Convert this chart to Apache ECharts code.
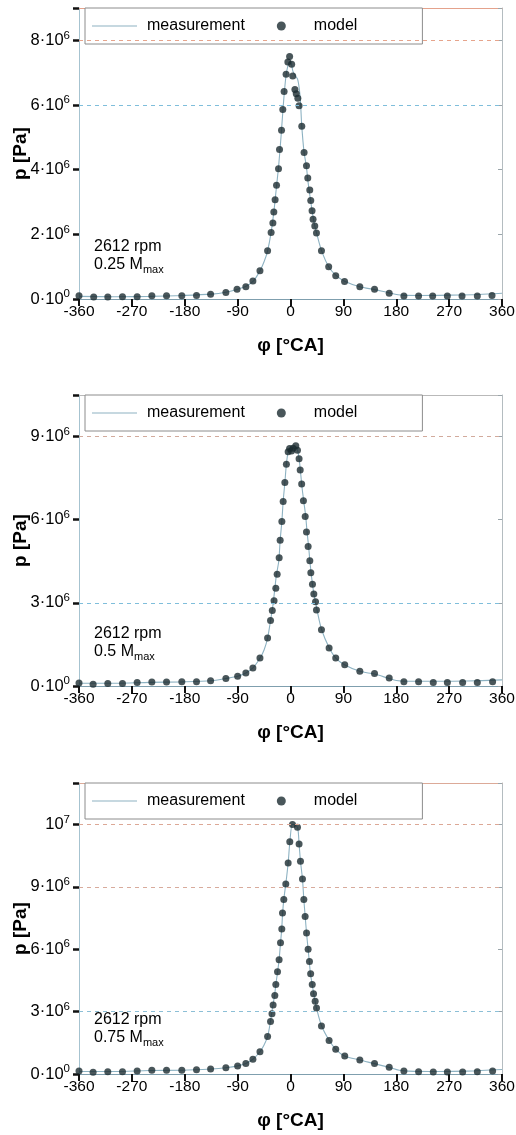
<!DOCTYPE html>
<html>
<head>
<meta charset="utf-8">
<script src="https://cdn.jsdelivr.net/npm/echarts@6/dist/echarts.min.js"></script>
<style>
  html, body { margin: 0; padding: 0; background: #fff; }
  #main { width: 516px; height: 1135px; }
</style>
</head>
<body>
<div id="main"></div>
<script>
const myChart = echarts.init(document.querySelector('#main'))

// crank angle ticks
const xTicks = [-360, -270, -180, -90, 0, 90, 180, 270, 360];

// y ticks (in 1e6 Pa) and the labels printed next to them
const yTicks025 = [0, 2, 4, 6, 8];
const yLabels025 = ['0·10^0', '2·10^6', '4·10^6', '6·10^6', '8·10^6'];
const yTicks050 = [0, 3, 6, 9];
const yLabels050 = ['0·10^0', '3·10^6', '6·10^6', '9·10^6'];
const yTicks075 = [0, 3, 6, 9, 12];
const yLabels075 = ['0·10^0', '3·10^6', '6·10^6', '9·10^6', '10^7'];

// model points [phi, p/1e6]
const model025 = [[-360,0.10],[-335,0.06],[-311,0.06],[-286,0.07],[-261,0.07],[-236,0.10],[-211,0.10],[-185,0.10],[-160,0.11],[-136,0.15],[-110,0.20],[-91,0.30],[-76,0.38],[-64,0.56],[-52,0.87],[-39,1.49],[-33,2.06],[-30,2.35],[-28.4,2.69],[-26.2,3.07],[-23.8,3.52],[-20.4,4.03],[-18.7,4.62],[-15.3,5.22],[-13.1,5.86],[-10.9,6.42],[-7.5,6.95],[-4.5,7.33],[-1.5,7.50],[2,7.26],[3.8,6.90],[7.5,6.48],[9.8,6.35],[12.5,6.21],[14.6,5.98],[19.2,5.34],[23.1,4.53],[27.2,4.12],[29.4,3.74],[32.8,3.37],[34.5,3.05],[36.7,2.73],[38.4,2.47],[41.3,2.26],[44.2,2.04],[52.7,1.49],[65,1.00],[77,0.72],[92,0.54],[118,0.38],[143,0.30],[168,0.18],[193,0.09],[218,0.09],[242,0.09],[267,0.09],[292,0.09],[318,0.09],[343,0.11]];
const model050 = [[-360,0.11],[-336,0.06],[-311,0.09],[-286,0.09],[-261,0.13],[-236,0.14],[-211,0.14],[-185,0.15],[-160,0.15],[-136,0.19],[-110,0.27],[-90,0.35],[-76,0.47],[-64,0.65],[-52,1.01],[-39,1.73],[-34,2.36],[-31,2.72],[-28,3.08],[-25,3.53],[-22.7,4.03],[-19.3,4.63],[-17.6,5.26],[-14.7,5.94],[-12.5,6.66],[-9.6,7.34],[-7,8.0],[-4,8.45],[-1.5,8.57],[1.7,8.48],[4.4,8.58],[9,8.67],[11.9,8.51],[14.6,8.20],[16.5,7.79],[19,7.29],[22,6.68],[25,6.12],[27.2,5.56],[30,5.03],[32.9,4.52],[34.6,4.09],[37.4,3.67],[39.7,3.32],[42.6,3.04],[44.2,2.74],[52.7,2.03],[65.7,1.37],[77,1.01],[92.3,0.77],[118,0.53],[143,0.45],[168,0.29],[193,0.15],[218,0.15],[243,0.13],[267,0.13],[293,0.13],[318,0.13],[344,0.15]];
const model075 = [[-360,0.14],[-336,0.08],[-311,0.11],[-286,0.11],[-261,0.14],[-236,0.18],[-211,0.18],[-185,0.18],[-160,0.21],[-136,0.24],[-110,0.30],[-90,0.39],[-76,0.51],[-64,0.71],[-52,1.07],[-39,1.80],[-34,2.53],[-31.5,2.90],[-29.6,3.32],[-26.7,3.78],[-25,4.30],[-22.1,4.92],[-19.4,5.50],[-17,6.32],[-14.8,6.97],[-13.6,7.74],[-11.4,8.39],[-8,9.14],[-4,10.15],[-1.2,11.17],[3.4,12.0],[11.9,11.87],[14.6,11.07],[17,10.23],[20.4,9.38],[22.7,8.39],[24.9,7.58],[27.3,6.78],[30,6.0],[32.3,5.41],[34.3,4.82],[37,4.31],[39.2,3.86],[42,3.50],[44.3,3.17],[52.7,2.31],[65.7,1.61],[77,1.19],[92.3,0.87],[118,0.67],[143,0.51],[168,0.32],[193,0.14],[218,0.11],[243,0.10],[267,0.10],[293,0.10],[318,0.11],[344,0.14]];

// measured pressure trace [phi, p/1e6]
const meas025 = [[-360,0.08],[-300,0.07],[-240,0.08],[-180,0.11],[-135,0.15],[-110,0.21],[-90,0.30],[-75,0.40],[-63,0.56],[-52,0.87],[-45,1.15],[-39,1.49],[-33,2.06],[-28,2.75],[-24,3.45],[-20,4.15],[-16,5.05],[-12,6.05],[-8,6.85],[-4,7.25],[0,7.36],[4,7.05],[8,6.9],[12,6.8],[15,6.5],[17,6.1],[19,5.4],[23,4.55],[27,4.1],[30,3.6],[35,2.95],[40,2.38],[45,2.0],[53,1.49],[65,1.0],[77,0.74],[92,0.55],[118,0.38],[143,0.29],[168,0.19],[190,0.12],[220,0.11],[270,0.12],[320,0.14],[360,0.18]];
const meas050 = [[-360,0.10],[-300,0.10],[-240,0.13],[-185,0.15],[-135,0.19],[-110,0.27],[-90,0.35],[-76,0.47],[-64,0.65],[-52,1.0],[-45,1.3],[-39,1.73],[-34,2.36],[-30,2.9],[-27,3.45],[-24,4.0],[-20,4.5],[-17.6,5.26],[-14.7,5.94],[-12.5,6.66],[-9.6,7.34],[-7,8.0],[-4,8.45],[0,8.6],[4,8.6],[8,8.65],[12,8.5],[15,8.15],[17.6,7.6],[20,7.1],[23,6.6],[26,6.1],[28,5.6],[31,5.0],[33,4.5],[35,4.1],[37.4,3.67],[40,3.3],[43,3.0],[46,2.65],[53,2.03],[66,1.37],[77,1.01],[92,0.77],[118,0.53],[143,0.43],[168,0.27],[180,0.2],[200,0.17],[250,0.17],[300,0.18],[360,0.22]];
const meas075 = [[-360,0.12],[-300,0.12],[-240,0.17],[-185,0.18],[-135,0.24],[-110,0.30],[-90,0.39],[-76,0.51],[-64,0.71],[-52,1.07],[-45,1.4],[-39,1.8],[-34,2.55],[-30,3.3],[-27,3.8],[-25,4.3],[-22,4.9],[-19.4,5.5],[-17,6.3],[-15,6.95],[-13.5,7.7],[-11.4,8.4],[-8,9.14],[-4,10.15],[-1,11.2],[3,12.0],[6,12.0],[12,11.85],[14.6,11.07],[17,10.23],[20.4,9.38],[22.7,8.39],[25,7.58],[27.3,6.78],[30,6.0],[32,5.4],[34,4.82],[37,4.3],[39.5,3.86],[42,3.5],[44.3,3.17],[53,2.31],[66,1.61],[77,1.19],[92,0.87],[118,0.67],[143,0.5],[168,0.32],[185,0.18],[200,0.14],[250,0.12],[300,0.14],[360,0.22]];

const FONT = "'Liberation Sans', Arial, sans-serif";
const LINE_COLOR = '#8db2c2';
const TICK_COLOR = '#111';

const panels = [
  { top: 8, max: 9, interval: 2, ticks: yTicks025, labels: yLabels025, model: model025, meas: meas025,
    load: '0.25 M', textY: 248, topColor: '#e4a28c',
    dashes: [[8, '#e6a48c'], [6, '#7fbedb']] },
  { top: 395, max: 10.5, interval: 3, ticks: yTicks050, labels: yLabels050, model: model050, meas: meas050,
    load: '0.5 M', textY: 635, topColor: '#b9b9b9',
    dashes: [[9, '#d2aa9c'], [3, '#7fbedb']] },
  { top: 783, max: 14, interval: 3, ticks: yTicks075, labels: yLabels075, model: model075, meas: meas075,
    load: '0.75 M', textY: 1021, topColor: '#dcaa98',
    dashes: [[12, '#dca896'], [9, '#d8ab9c'], [3, '#8cbfd6']] }
];

const grid = [], xAxis = [], yAxis = [], series = [], legend = [], graphic = [];

panels.forEach(function (p, i) {
  grid.push({ left: 79, right: 14, top: p.top, height: 291, outerBoundsMode: 'none' });

  xAxis.push({
    type: 'value', gridIndex: i, min: -360, max: 360, interval: 90,
    name: 'φ [°CA]', nameLocation: 'middle', nameGap: 37, nameMoveOverlap: false,
    nameTextStyle: { fontFamily: FONT, fontSize: 19, fontWeight: 'bold', color: '#000' },
    axisLine: { onZero: false, lineStyle: { color: '#7f9fae', width: 1 } },
    axisTick: { show: true, length: 7, lineStyle: { color: TICK_COLOR, width: 2 } },
    axisLabel: { fontFamily: FONT, fontSize: 15.5, color: '#000', margin: 5 },
    splitLine: { show: false }
  });
  xAxis.push({
    type: 'value', gridIndex: i, position: 'top', min: -360, max: 360,
    axisLine: { onZero: false, lineStyle: { color: p.topColor, width: 1 } },
    axisTick: { show: false }, axisLabel: { show: false }, splitLine: { show: false }
  });

  yAxis.push({
    type: 'value', gridIndex: i, min: 0, max: p.max, interval: p.interval,
    name: 'p [Pa]', nameLocation: 'middle', nameGap: 49, nameMoveOverlap: false,
    nameTextStyle: { fontFamily: FONT, fontSize: 19, fontWeight: 'bold', color: '#000' },
    axisLine: { show: true, onZero: false, lineStyle: { color: '#a6c3d0', width: 1 } },
    axisTick: { show: true, length: 6, lineStyle: { color: TICK_COLOR, width: 2.5 } },
    axisLabel: {
      customValues: p.ticks, margin: 9,
      formatter: function (v) {
        const lab = p.labels[p.ticks.indexOf(v)] || '';
        const parts = lab.split('^');
        return '{b|' + parts[0] + '}{e|' + (parts[1] || '') + '}';
      },
      rich: {
        b: { fontFamily: FONT, fontSize: 16.5, color: '#000', lineHeight: 22 },
        e: { fontFamily: FONT, fontSize: 11.5, color: '#000', lineHeight: 11, verticalAlign: 'top' }
      }
    },
    splitLine: { show: false }
  });
  yAxis.push({
    type: 'value', gridIndex: i, position: 'right', min: 0, max: p.max, interval: p.interval,
    axisLine: { show: true, onZero: false, lineStyle: { color: '#b4bcc0', width: 1 } },
    axisTick: { show: true, inside: true, length: 4, lineStyle: { color: '#9aa5aa' } },
    axisLabel: { show: false }, splitLine: { show: false }
  });

  series.push({
    name: 'measurement', type: 'line', xAxisIndex: 2 * i, yAxisIndex: 2 * i,
    data: p.meas, showSymbol: false, symbol: 'none', smooth: 0.3,
    lineStyle: { color: LINE_COLOR, width: 1.1 }, itemStyle: { color: LINE_COLOR },
    z: 2
  });
  series.push({
    name: 'model', type: 'scatter', xAxisIndex: 2 * i, yAxisIndex: 2 * i,
    data: p.model, symbolSize: 7, itemStyle: { color: '#1b2c31' }, z: 3,
    markLine: {
      silent: true, symbol: ['none', 'none'], label: { show: false },
      data: p.dashes.map(function (d) {
        return { yAxis: d[0], symbol: 'none', lineStyle: { color: d[1], type: [4, 4], width: 1 } };
      })
    }
  });

  legend.push({
    data: [
      { name: 'measurement', icon: 'path://M0,0 L45,0 L45,1 L0,1 Z', itemStyle: { color: LINE_COLOR } },
      { name: 'model' }
    ],
    left: 85, top: p.top, orient: 'horizontal',
    selectedMode: false, itemWidth: 45, itemHeight: 9, itemGap: 32,
    padding: [10, 65, 10, 7], backgroundColor: '#fff',
    borderColor: '#8c8c8c', borderWidth: 1, borderRadius: 0,
    textStyle: { fontFamily: FONT, fontSize: 16, color: '#000', padding: [0, 0, 0, 5] }
  });

  graphic.push({
    type: 'text', left: 94, top: p.textY - 9,
    style: { text: '2612 rpm', fontFamily: FONT, fontSize: 16, fill: '#000' }
  });
  graphic.push({
    type: 'text', left: 94, top: p.textY + 9,
    style: {
      text: '{a|' + p.load + '}{s|max}',
      rich: {
        a: { fontFamily: FONT, fontSize: 16, fill: '#000', lineHeight: 20 },
        s: { fontFamily: FONT, fontSize: 11, fill: '#000', lineHeight: 11, verticalAlign: 'bottom' }
      }
    }
  });
});

let option = {
  animation: false,
  backgroundColor: '#fff',
  grid: grid,
  xAxis: xAxis,
  yAxis: yAxis,
  legend: legend,
  graphic: graphic,
  series: series
};

option && myChart.setOption(option);
</script>
</body>
</html>
